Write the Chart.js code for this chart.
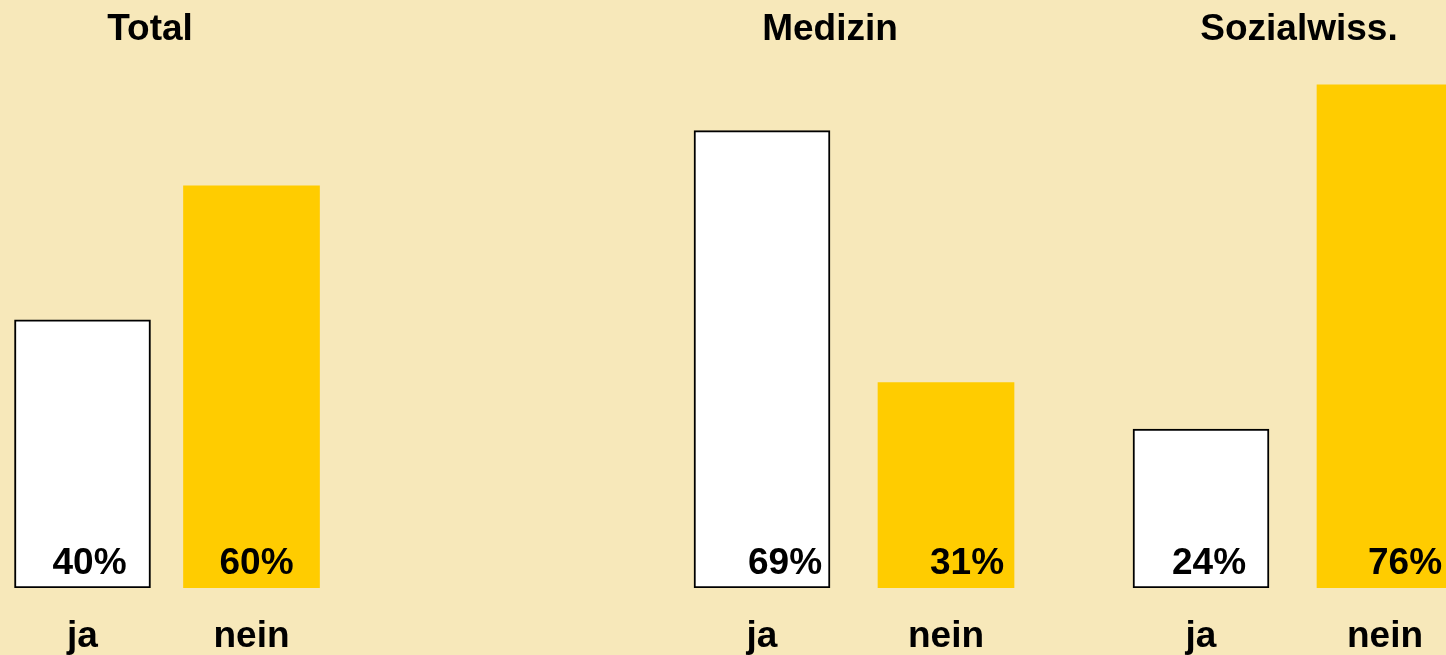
<!DOCTYPE html>
<html>
<head>
<meta charset="utf-8">
<script src="https://cdn.jsdelivr.net/npm/chart.js@4/dist/chart.umd.min.js"></script>
<style>
  html, body { margin: 0; padding: 0; background: #F7E8BA; }
  #wrap { position: relative; width: 1446px; height: 655px; overflow: hidden; background: #F7E8BA; }
  canvas { position: absolute; top: 0; z-index: 1; }
  .ttl { position: absolute; z-index: 5; top: 8px; transform: translateX(-50%); font: bold 37px "Liberation Sans", Arial, sans-serif; line-height: 40px; color: #000; white-space: nowrap; }
</style>
</head>
<body>
<div id="wrap">
  <canvas id="c0" width="338" height="655" style="left:-2px"></canvas>
  <canvas id="c1" width="368" height="655" style="left:670px"></canvas>
  <canvas id="c2" width="368" height="655" style="left:1109px"></canvas>
  <div class="ttl" style="left:150px">Total</div>
  <div class="ttl" style="left:830px">Medizin</div>
  <div class="ttl" style="left:1299px">Sozialwiss.</div>
</div>
<script>
// ---- data ----
const groups = ["Total", "Medizin", "Sozialwiss."];
const categories = ["ja", "nein"];
const totalValues = [40, 60];
const medizinValues = [69, 31];
const sozialValues = [24, 76];

// ---- style ----
const BG = "#F7E8BA";
const FONT = "'Liberation Sans', Arial, sans-serif";
const barFill = ["#FFFFFF", "#FFCC00"];
const barBorder = [2, 0];

const valueLabels = {
  id: "valueLabels",
  afterDatasetsDraw(chart, args, opts) {
    const ctx = chart.ctx;
    const meta = chart.getDatasetMeta(0);
    const ds = chart.data.datasets[0];
    ctx.save();
    ctx.font = "bold 37px " + FONT;
    ctx.fillStyle = "#000";
    ctx.textAlign = "center";
    ctx.textBaseline = "alphabetic";
    meta.data.forEach((bar, i) => {
      const shift = (opts.shift && opts.shift[i]) || 0;
      ctx.fillText(ds.data[i] + "%", bar.x + shift, bar.base - 14);
    });
    ctx.restore();
  }
};

function makeChart(id, values, yMax, shift) {
  return new Chart(document.getElementById(id), {
    type: "bar",
    data: {
      labels: categories,
      datasets: [{
        data: values,
        backgroundColor: barFill,
        borderColor: "#000000",
        borderWidth: barBorder,
        borderSkipped: false,
        barThickness: 136
      }]
    },
    options: {
      responsive: false,
      animation: false,
      layout: { padding: 0 },
      plugins: {
        legend: { display: false },
        tooltip: { enabled: false },
        title: { display: false },
        valueLabels: { shift: shift }
      },
      scales: {
        x: {
          grid: { display: false, drawTicks: false },
          border: { display: false },
          ticks: { color: "#000", font: { family: FONT, size: 37, weight: "bold" }, padding: 27 },
          afterFit: (s) => { s.height = 67; }
        },
        y: {
          display: false,
          min: 0,
          max: yMax
        }
      }
    },
    plugins: [valueLabels]
  });
}

makeChart("c0", totalValues, 87.7, [7, 5]);
makeChart("c1", medizinValues, 88.7, [23, 21]);
makeChart("c2", sozialValues, 88.8, [8, 20]);
</script>
</body>
</html>
